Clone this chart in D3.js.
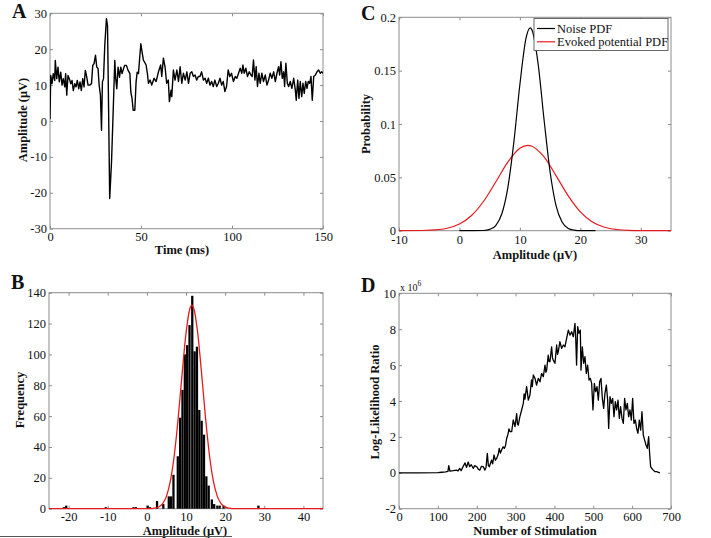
<!DOCTYPE html>
<html><head><meta charset="utf-8">
<script src="https://cdn.jsdelivr.net/npm/d3@7"></script>
<style>
body{margin:0;background:#fff}
svg{display:block}
text{font-family:"Liberation Serif","Times New Roman",serif;fill:#111}
</style>
</head><body>
<svg id="c" width="711" height="538"></svg>
<script>
// ---------- Panel A: evoked potential time series ----------
const timeMs = [
 0,0.4,1.1,1.8,2.6,2.9,3.7,4.4,5.1,5.9,
 6.6,7.3,8.1,8.6,9.2,9.9,10.6,11.4,12.1,12.8,
 13.6,14.3,15,15.8,16.5,17.2,18,18.7,19.4,20.2,
 20.9,21.8,22.8,23.5,24.2,25,25.7,26.4,27,27.7,
 28.3,28.8,29.4,30.1,31,31.6,32.1,32.8,33.8,34.7,
 35.6,36.1,36.7,37.4,38.2,38.9,39.6,40.4,41.1,42,
 42.9,43.9,44.4,45.1,45.7,46.6,47.3,47.9,48.6,49.4,
 49.9,50.6,51.3,52.8,53.5,54.1,55,55.9,57.2,58.3,
 59.6,60.8,61.4,62.3,63.2,64.1,65,65.6,66.5,66.9,
 67.8,68.7,69.7,70.6,71.5,72.4,73.3,74.3,75.2,76.1,
 77,77.9,78.8,79.7,80.6,81.5,82.4,83.3,84.3,85.2,
 86.1,87,87.9,88.8,89.7,90.6,91.6,92.5,93.4,94.3,
 95.2,96.1,97,97.9,98.8,99.7,100.8,101.8,102.7,103.6,
 104.5,105.4,106,106.7,107.6,108.5,109.5,110.4,111.1,111.8,
 112.6,113.3,114,114.8,115.5,116.4,117.3,118.3,119.2,120.1,
 121,121.9,122.9,123.8,124.7,125.6,126.2,126.9,127.6,128.4,
 128.9,129.6,130.4,131.1,132,132.9,133.9,134.8,135.3,136.1,
 136.8,137.5,138.3,139,139.7,140.5,141.2,141.9,142.7,143.4,
 144.1,144.9,145.8,146.7,147.6,148.5,149.3,150];
const amplitudeUV = [
 0.5,12.7,10.4,13.2,11.3,16.9,11.8,15,10.9,13.6,
 10,11.8,9.5,13.2,7.2,12.7,11.8,10.4,11.3,8.5,
 10.4,9.5,11.3,9,10.9,8.5,11.8,9.5,14.1,12.2,
 10,10,10.4,15.5,16,18.3,15,14.6,10,7.2,
 -2.6,10.9,11.8,21.1,28.5,26.6,7.2,-21.6,-11.4,2.5,
 16.9,11.8,9,15,12.2,15,13.2,14.6,15.5,15.5,
 14.1,13.2,8.1,6.2,3,3,10.9,13.6,13.2,18.3,
 21.5,19.2,17,15.6,13.3,10.5,11.4,10,11.9,11,
 13.7,15.6,12.4,17.5,15.1,10.5,11.4,5.4,8.6,6.8,
 14.2,11.4,14.2,11,15.1,10.5,13.3,11.4,13.7,10.5,
 13.3,13.7,12.4,12.8,11.4,12.4,12.4,13.7,11.4,11.9,
 10.5,11.9,10,11,9.6,11.4,9.6,10.5,11.9,10,
 11,8.2,9.6,14.2,12.4,13.3,11,12.4,11.9,13.3,
 14.7,13.3,15.6,13.3,14.7,12.4,13.7,12.8,12.4,17,
 11.4,15.1,9.6,13.3,10.5,13.3,11,12.8,10,11.4,
 13.3,11.9,13.7,11,13.3,15.1,12.8,16.5,11.9,13.7,
 9.6,16.1,10.5,9.6,11,9.1,11.9,8.6,5.8,11.4,
 6.3,11,6.8,10.5,7.7,11,9.1,11,10.5,12.4,
 5.8,12.4,12.8,13.7,14.2,13.3,13.7,13.3];
const aXTicks = [0,50,100,150];
const aYTicks = [-30,-20,-10,0,10,20,30];

// ---------- Panel B: histogram + fitted curve ----------
const binCenters = [-21.2,-20.6,-10.5,-3.4,-2.8,0.2,0.8,2.6,4.2,5.6,6.2,6.8,7.9,8.5,9.1,9.7,10.3,10.9,11.6,12.2,12.8,13.4,14.0,14.6,15.2,15.8,16.6,17.2,18.0,18.6,19.6,28.5];
const binCounts  = [1,2,1,1,1,2,1,5,3,8,8,22,34,59,77,100,106,119,138,102,105,64,57,48,21,15,6,3,2,2,2,2];
const fitX = [-25,0,1,2,3,4,5,6,7,8,9,10,11,11.5,12,13,14,15,16,17,18,19,20,21,22,23,45];
const fitY = [0,0.02,0.09,0.33,1.1,3.2,8.0,17.8,34.5,58.6,87.2,113.7,129.8,132,129.8,113.7,87.2,58.6,34.5,17.8,8.0,3.2,1.1,0.33,0.09,0.02,0];
const bXTicks = [-20,-10,0,10,20,30,40];
const bYTicks = [0,20,40,60,80,100,120,140];

// ---------- Panel C: PDFs ----------
const noiseX = [0,4,5,6,7,8,9,10,11,11.7,12,13,14,15,16,17,18,19,20,22.5];
const noiseY = [0,0.0002,0.0012,0.0048,0.0156,0.0402,0.083,0.137,0.180,0.19,0.188,0.157,0.104,0.055,0.023,0.0079,0.0021,0.0005,0,0];
const evokedX = [-10,-6,-4,-2,0,2,4,6,8,10,11.3,12,14,16,18,20,22,24,26,28,30,35];
const evokedY = [0,0.0002,0.0007,0.0023,0.0062,0.0142,0.0276,0.0456,0.0643,0.0773,0.08,0.0792,0.0691,0.0514,0.0326,0.0176,0.0081,0.0032,0.0011,0.0003,0.0001,0];
const cXTicks = [-10,0,10,20,30];
const cYTicks = [0,0.05,0.1,0.15,0.2];
const legendLabels = ["Noise PDF","Evoked potential PDF"];

// ---------- Panel D: log-likelihood ratio (x 10^6) ----------
const stimN = [
 0,50,100,110,120,126,128,131,140,148,
 152,156,160,165,170,174,178,182,186,191,
 195,200,204,208,212,217,221,224,227.3,230,
 232.4,238.4,241,244.5,248,251.3,255,258,261,264,
 268,271,274,277,281,283,285.6,290,294,298.5,
 302.8,305,307,311,315.6,320,322,324,328.5,332.8,
 337,341,343,345.6,350,354,358.5,362.8,367,371.4,
 375.7,378,380,384,386,388.5,392.8,395,397,401.4,
 405.7,408,410,414,418.5,422.8,427,431.4,435.8,440,
 444.4,448.6,452.9,455,457,459.8,463.2,466.6,468.4,471.8,
 475.2,478.6,482,485.5,489,492.4,495.8,499.2,502.7,506,
 509.5,513,516.4,519.8,523.3,526.7,530,533.6,537,539.6,
 543,546.4,549.8,553.3,556.7,560,563.6,567,570.4,573.9,
 577.3,580.7,584.1,587.6,591,594.4,597.9,601.3,604.7,608.2,
 611.6,615,618.4,621.9,625.3,628.7,632.2,635.6,639,642.5,
 645,647.6,650.2,654.5,658.8,663,671.6];
const llr = [
 0,0,0.01,0.03,0.05,0.08,0.4,0.1,0.12,0.15,
 0.1,0.25,0.12,0.35,0.55,0.3,0.6,0.34,0.45,0.25,
 0.4,0.34,0.2,0.15,0.35,0.34,0.15,0.3,1.08,0.4,
 0.34,0.71,0.5,0.99,0.7,0.8,1.0,1.36,1.1,1.27,
 1.45,1.36,1.5,1.9,2.2,2.45,2.3,2.29,2.94,2.57,
 3.3,2.7,2.66,3.12,3.5,3.87,4.4,4.1,4.8,4.05,
 4.33,5.17,4.8,5.45,5.26,4.89,5.26,5.07,5.54,5.35,
 6.0,5.6,5.72,6.56,6.2,6.19,7.02,6.4,6.28,6.1,
 7.12,6.6,6.75,7.3,6.93,7.12,7.02,7.49,7.95,7.67,
 7.86,7.58,8.32,7.4,6.0,8.14,7.77,7.95,5.72,7.02,
 6.1,6.47,5.54,6.0,5.17,5.26,4.98,3.5,4.98,4.52,
 4.8,4.05,5.07,5.26,4.15,3.59,4.43,4.89,4.05,2.47,
 4.24,3.87,4.15,3.12,3.96,3.5,4.05,3.03,3.68,3.03,
 2.75,4.15,3.5,3.87,3.12,3.5,2.94,4.15,2.75,2.94,
 2.47,2.2,2.94,2.38,3.4,2.1,1.82,1.55,1.36,2.01,
 1.08,0.34,0.25,0.15,0.06,0.06,0.0];
const dXTicks = [0,100,200,300,400,500,600,700];
const dYTicks = [-2,0,2,4,6,8,10];

// ---------- drawing ----------
const svg = d3.select('#c');
const FRAME = '#8c8c8c';
const RED = '#e8191c';
const TICKFS = 12.5;

function panel(o) {
  const x = d3.scaleLinear().domain(o.xDomain).range([o.left, o.right]);
  const y = d3.scaleLinear().domain(o.yDomain).range([o.bottom, o.top]);
  const g = svg.append('g');
  const fmt = d => String(d);
  const styleAxis = sel => {
    sel.select('.domain').remove();
    sel.selectAll('.tick line').attr('stroke', FRAME);
    sel.selectAll('.tick text').attr('font-size', TICKFS).attr('fill', '#111')
      .attr('font-family', '"Liberation Serif","Times New Roman",serif');
  };
  g.append('g').attr('transform', `translate(0,${o.bottom})`)
    .call(d3.axisBottom(x).tickValues(o.xTicks).tickFormat(fmt).tickSize(-3).tickPadding(o.xPad || 3)).call(styleAxis);
  g.append('g').attr('transform', `translate(0,${o.top})`)
    .call(d3.axisTop(x).tickValues(o.xTicks).tickFormat('').tickSize(-3)).call(styleAxis);
  g.append('g').attr('transform', `translate(${o.left},0)`)
    .call(d3.axisLeft(y).tickValues(o.yTicks).tickFormat(fmt).tickSize(-3).tickPadding(3)).call(styleAxis);
  g.append('g').attr('transform', `translate(${o.right},0)`)
    .call(d3.axisRight(y).tickValues(o.yTicks).tickFormat('').tickSize(-3)).call(styleAxis);
  g.append('rect').attr('x', o.left).attr('y', o.top)
    .attr('width', o.right - o.left).attr('height', o.bottom - o.top)
    .attr('fill', 'none').attr('stroke', FRAME).attr('stroke-width', 1);
  const clip = 'clip' + Math.round(o.left) + Math.round(o.top);
  svg.append('clipPath').attr('id', clip).append('rect')
    .attr('x', o.left).attr('y', o.top - 2).attr('width', o.right - o.left).attr('height', o.bottom - o.top + 3);
  const plot = svg.append('g').attr('clip-path', `url(#${clip})`);
  svg.append('text').attr('x', o.xTitle[0]).attr('y', o.xTitle[1]).attr('text-anchor', 'middle')
    .attr('font-size', 12.5).attr('font-weight', 'bold').text(o.xTitle[2]);
  svg.append('text').attr('transform', `translate(${o.yTitle[0]},${o.yTitle[1]}) rotate(-90)`)
    .attr('text-anchor', 'middle').attr('dy', '0.35em')
    .attr('font-size', 12.5).attr('font-weight', 'bold').text(o.yTitle[2]);
  svg.append('text').attr('x', o.letter[0]).attr('y', o.letter[1])
    .attr('font-size', 20).attr('font-weight', 'bold').text(o.letter[2]);
  return {x, y, plot, g};
}

// Panel A
{
  const p = panel({left:50, right:323, top:13.3, bottom:228.7,
    xDomain:[0,150], yDomain:[-30,30], xTicks:aXTicks, yTicks:aYTicks,
    xTitle:[182, 254, 'Time (ms)'], yTitle:[22.5, 120, 'Amplitude (\u03bcV)'], letter:[12, 18, 'A']});
  const pts = d3.zip(timeMs, amplitudeUV);
  p.plot.append('path').datum(pts)
    .attr('d', d3.line().x(d => p.x(d[0])).y(d => p.y(d[1])))
    .attr('fill', 'none').attr('stroke', '#000').attr('stroke-width', 1.4).attr('stroke-linejoin', 'round');
}

// Panel B
{
  const p = panel({left:49, right:323, top:292.7, bottom:508.7,
    xDomain:[-25,45], yDomain:[0,140], xTicks:bXTicks, yTicks:bYTicks,
    xTitle:[185, 535, 'Amplitude (\u03bcV)'], yTitle:[20, 400, 'Frequency'], letter:[11, 289, 'B']});
  const binW = 0.58;
  p.plot.selectAll('rect.bar').data(d3.zip(binCenters, binCounts)).join('rect')
    .attr('class', 'bar')
    .attr('x', d => p.x(d[0] - binW / 2))
    .attr('width', d => p.x(d[0] + binW / 2) - p.x(d[0] - binW / 2))
    .attr('y', d => p.y(d[1]))
    .attr('height', d => p.y(0) - p.y(d[1]))
    .attr('fill', '#000');
  p.plot.append('path').datum(d3.zip(fitX, fitY))
    .attr('d', d3.line().curve(d3.curveMonotoneX).x(d => p.x(d[0])).y(d => p.y(d[1])))
    .attr('fill', 'none').attr('stroke', RED).attr('stroke-width', 1.3);
}

// Panel C
{
  const p = panel({left:399, right:671, top:17.3, bottom:230.7,
    xDomain:[-10,35], yDomain:[0,0.2], xTicks:cXTicks, yTicks:cYTicks, xPad:4,
    xTitle:[535, 258.5, 'Amplitude (\u03bcV)'], yTitle:[366, 124, 'Probability'], letter:[361, 20, 'C']});
  const line = d3.line().curve(d3.curveMonotoneX).x(d => p.x(d[0])).y(d => p.y(d[1]));
  p.plot.append('path').datum(d3.zip(evokedX, evokedY)).attr('d', line)
    .attr('fill', 'none').attr('stroke', RED).attr('stroke-width', 1.2);
  p.plot.append('path').datum(d3.zip(noiseX, noiseY)).attr('d', line)
    .attr('fill', 'none').attr('stroke', '#000').attr('stroke-width', 1.2);
  const lg = svg.append('g');
  lg.append('rect').attr('x', 534).attr('y', 18.5).attr('width', 134).attr('height', 32)
    .attr('fill', '#fff').attr('stroke', '#444').attr('stroke-width', 0.8);
  const colors = ['#000', RED];
  legendLabels.forEach((t, i) => {
    const yy = 28.5 + i * 13.3;
    lg.append('line').attr('x1', 537).attr('x2', 555).attr('y1', yy).attr('y2', yy)
      .attr('stroke', colors[i]).attr('stroke-width', 1.2);
    lg.append('text').attr('x', 557).attr('y', yy + 4.3).attr('font-size', 12.5).text(t);
  });
}

// Panel D
{
  const p = panel({left:399, right:671, top:293.3, bottom:508.7,
    xDomain:[0,700], yDomain:[-2,10], xTicks:dXTicks, yTicks:dYTicks,
    xTitle:[535, 535, 'Number of Stimulation'], yTitle:[375, 402, 'Log-Likelihood Ratio'], letter:[361, 292, 'D']});
  p.plot.append('path').datum(d3.zip(stimN, llr))
    .attr('d', d3.line().x(d => p.x(d[0])).y(d => p.y(d[1])))
    .attr('fill', 'none').attr('stroke', '#000').attr('stroke-width', 1.3).attr('stroke-linejoin', 'round');
  const ex = svg.append('text').attr('x', 400).attr('y', 290.5).attr('font-size', 10);
  ex.append('tspan').text('x 10');
  ex.append('tspan').attr('dy', -5).attr('font-size', 7.5).text('6');
}

svg.append('line').attr('x1', 0).attr('x2', 232).attr('y1', 536.5).attr('y2', 536.5)
  .attr('stroke', '#555').attr('stroke-width', 1);
</script>
</body></html>
